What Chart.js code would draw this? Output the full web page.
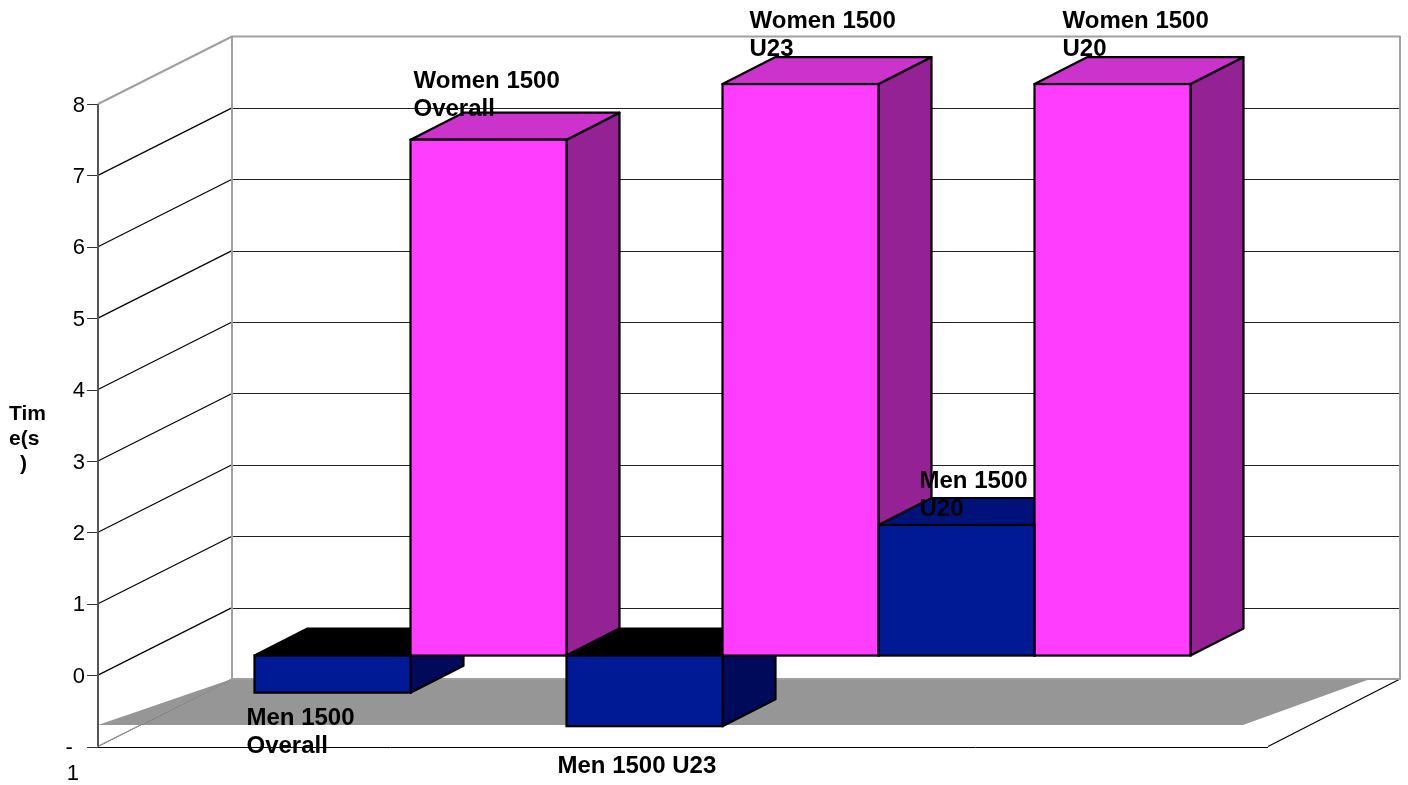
<!DOCTYPE html>
<html>
<head>
<meta charset="utf-8">
<style>html,body{margin:0;padding:0;background:#fff}canvas{display:block}</style>
<script src="https://cdn.jsdelivr.net/npm/chart.js@4"></script>
</head>
<body>
<canvas id="c" width="1408" height="785"></canvas>
<script>
const categories = ['Overall', 'U23', 'U20'];
const menValues = [-0.52, -0.99, 1.83];
const womenValues = [7.23, 8.01, 8.01];
const menLabels = [['Men 1500', 'Overall'], ['Men 1500 U23'], ['Men 1500', 'U20']];
const womenLabels = [['Women 1500', 'Overall'], ['Women 1500', 'U23'], ['Women 1500', 'U20']];
const yTitleLines = ['Tim', 'e(s', ')'];

/* layout & style constants */
const FONT = '"Liberation Sans", Arial, sans-serif';
const AXIS_X = 98, WALL_DX = 134, WALL_DY = 67.5, DEPTH_X = 53, DEPTH_Y = 27;
const FLOOR_RIGHT = 1268, WALL_RIGHT = 1400;
const titlePlace = [{ x: 9, y: 420 }, { x: 9, y: 445 }, { x: 20, y: 470 }];
const faces = [
  { front: '#001A96', side: '#000A5A', top: '#00127A', under: '#000000' },
  { front: '#FF3DFF', side: '#952295', top: '#CC33CC', under: '#CC33CC' }
];
/* label placement: dx from bar left, baseline of first line */
const labelPlace = [
  [{ dx: -8, y: 725 }, { dx: -9, y: 773 }, { dx: 41, y: 488 }],
  [{ dx: 3, y: 88 }, { dx: 27, y: 28 }, { dx: 28, y: 28 }]
];

function poly(ctx, pts, fill, stroke, lw) {
  ctx.beginPath();
  pts.forEach((p, i) => i ? ctx.lineTo(p[0], p[1]) : ctx.moveTo(p[0], p[1]));
  ctx.closePath();
  if (fill) { ctx.fillStyle = fill; ctx.fill(); }
  if (stroke) { ctx.strokeStyle = stroke; ctx.lineWidth = lw; ctx.lineJoin = 'round'; ctx.stroke(); }
}
function seg(ctx, x1, y1, x2, y2, color, lw) {
  ctx.beginPath(); ctx.moveTo(x1, y1); ctx.lineTo(x2, y2);
  ctx.strokeStyle = color; ctx.lineWidth = lw; ctx.stroke();
}
const snap = v => Math.round(v) + 0.5;
function barBox(bar) {
  const p = bar.getProps(['x', 'y', 'base', 'width'], true);
  const l = p.x - p.width / 2, r = p.x + p.width / 2;
  return { l, r, t: Math.min(p.y, p.base), b: Math.max(p.y, p.base), neg: p.y > p.base };
}

const scene = {
  id: 'scene',
  beforeDatasetsDraw(chart) {
    const ctx = chart.ctx, y = chart.scales.y;
    const top = y.getPixelForValue(8), bot = y.getPixelForValue(-1);
    const backX = AXIS_X + WALL_DX;
    ctx.save();
    /* floor shading */
    const floorFront = y.getPixelForValue(-0.7);
    poly(ctx, [[AXIS_X, floorFront], [backX, bot - WALL_DY], [WALL_RIGHT - 30, bot - WALL_DY], [FLOOR_RIGHT - 25, floorFront]], '#969696');
    /* grid */
    y.ticks.forEach(t => {
      const py = y.getPixelForValue(t.value);
      seg(ctx, AXIS_X - 11, snap(py), AXIS_X, snap(py), '#333', 1);
      if (t.value > -1 && t.value < 8) {
        seg(ctx, AXIS_X, py, backX, py - WALL_DY, '#000', 1.2);
        seg(ctx, backX, snap(py - WALL_DY), WALL_RIGHT, snap(py - WALL_DY), '#222', 1);
      }
    });
    /* floor outline */
    seg(ctx, AXIS_X, snap(bot), FLOOR_RIGHT, snap(bot), '#000', 1);
    seg(ctx, FLOOR_RIGHT, bot, WALL_RIGHT, bot - WALL_DY, '#000', 1.2);
    seg(ctx, AXIS_X, bot, backX, bot - WALL_DY, '#444', 1);
    /* walls */
    seg(ctx, AXIS_X + 1, bot - 1, backX, bot - WALL_DY, '#A6A6A6', 1);
    poly(ctx, [[backX, top - WALL_DY], [WALL_RIGHT, top - WALL_DY], [WALL_RIGHT, bot - WALL_DY], [backX, bot - WALL_DY]], null, '#A0A0A0', 2);
    seg(ctx, AXIS_X, top, backX, top - WALL_DY, '#A0A0A0', 2);
    seg(ctx, AXIS_X, top, AXIS_X, bot, '#555', 2);
    /* bar side & top faces: women first so the men's tops lie over their sides */
    [1, 0].forEach(di => {
      chart.getDatasetMeta(di).data.forEach(bar => {
        const b = barBox(bar), f = faces[di];
        poly(ctx, [[b.r, b.t], [b.r + DEPTH_X, b.t - DEPTH_Y], [b.r + DEPTH_X, b.b - DEPTH_Y], [b.r, b.b]], f.side, '#000', 2.2);
        poly(ctx, [[b.l, b.t], [b.l + DEPTH_X, b.t - DEPTH_Y], [b.r + DEPTH_X, b.t - DEPTH_Y], [b.r, b.t]], b.neg ? f.under : f.top, '#000', 2.2);
      });
    });
    ctx.restore();
  },
  afterDatasetsDraw(chart) {
    const ctx = chart.ctx;
    ctx.save();
    chart.data.datasets.forEach((ds, di) => {
      chart.getDatasetMeta(di).data.forEach(bar => {
        const b = barBox(bar);
        ctx.strokeStyle = '#000'; ctx.lineWidth = 2.2;
        ctx.strokeRect(b.l, b.t, b.r - b.l, b.b - b.t);
      });
    });
    /* data labels */
    ctx.fillStyle = '#000'; ctx.font = 'bold 24px ' + FONT; ctx.textAlign = 'left'; ctx.textBaseline = 'alphabetic';
    [menLabels, womenLabels].forEach((labels, di) => {
      chart.getDatasetMeta(di).data.forEach((bar, i) => {
        const b = barBox(bar), pl = labelPlace[di][i];
        labels[i].forEach((line, k) => ctx.fillText(line, b.l + pl.dx, pl.y + k * 28));
      });
    });
    /* axis title */
    ctx.font = 'bold 21px ' + FONT;
    yTitleLines.forEach((line, k) => ctx.fillText(line, titlePlace[k].x, titlePlace[k].y));
    ctx.restore();
  }
};

new Chart(document.getElementById('c'), {
  type: 'bar',
  data: {
    labels: categories,
    datasets: [
      { label: 'Men 1500', data: menValues, backgroundColor: faces[0].front, borderWidth: 0, yAxisID: 'yBar', barPercentage: 1, categoryPercentage: 1 },
      { label: 'Women 1500', data: womenValues, backgroundColor: faces[1].front, borderWidth: 0, yAxisID: 'yBar', barPercentage: 1, categoryPercentage: 1 }
    ]
  },
  options: {
    responsive: false,
    animation: false,
    layout: { autoPadding: false, padding: { top: 80, right: 217.5, bottom: 38.5, left: 0 } },
    plugins: { legend: { display: false }, title: { display: false }, tooltip: { enabled: false } },
    scales: {
      x: { display: false, offset: true, grid: { display: false } },
      y: {
        position: 'left',
        min: -1, max: 8.336,
        afterFit(s) { s.width = 254.5; s.paddingTop = 0; s.paddingBottom = 0; },
        border: { display: false },
        grid: { display: false, drawTicks: false },
        ticks: {
          stepSize: 1, includeBounds: false, autoSkip: false, padding: 169.5, color: '#000', maxRotation: 0, labelOffset: 1.5,
          font: { family: FONT, size: 22, lineHeight: 1.18 },
          callback: v => v === -1 ? ['', '-  ', '1 '] : String(v)
        }
      },
      yBar: {
        display: false, position: 'left',
        min: -1.2745, max: 8.067
      }
    }
  },
  plugins: [scene]
});
</script>
</body>
</html>
